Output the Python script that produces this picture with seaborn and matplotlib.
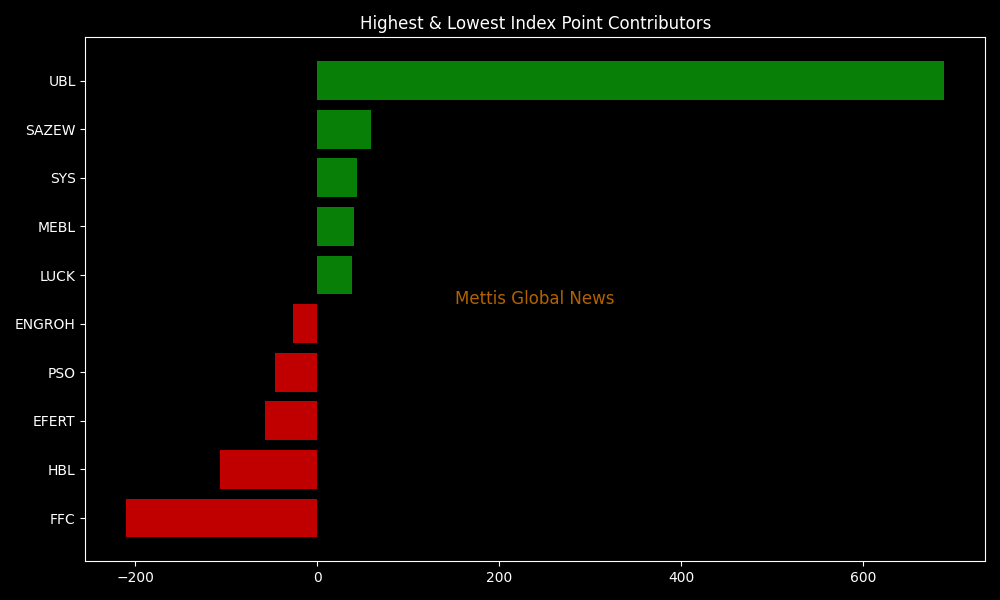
import pandas as pd
import numpy as np
import seaborn as sns
import matplotlib.pyplot as plt

# index point contributors
symbols = ['UBL', 'SAZEW', 'SYS', 'MEBL', 'LUCK', 'ENGROH', 'PSO', 'EFERT', 'HBL', 'FFC']
points = [689, 59, 44, 40.5, 38.5, -26.5, -46.8, -57.5, -107.3, -210]

df = pd.DataFrame({'Symbol': symbols, 'Points': points})
df['Sign'] = np.where(df['Points'] >= 0, 'up', 'down')

plt.style.use('dark_background')
fig, ax = plt.subplots(figsize=(10, 6), dpi=100)

sns.barplot(data=df, x='Points', y='Symbol', hue='Sign', orient='h',
            palette={'up': '#088008', 'down': '#c00000'}, dodge=False,
            width=0.8, legend=False, saturation=1, ax=ax)

n = len(symbols)
ax.set_ylim(n - 1 + 0.89, -0.89)
ax.set_xlim(-255, 734)
ax.set_xlabel('')
ax.set_ylabel('')
ax.set_title('Highest & Lowest Index Point Contributors', fontsize=12)
ax.text(0.5, 0.5, 'Mettis Global News', transform=ax.transAxes,
        ha='center', va='center', fontsize=12, color='darkorange', alpha=0.7)

plt.tight_layout()
plt.savefig('out.png', dpi=100)
